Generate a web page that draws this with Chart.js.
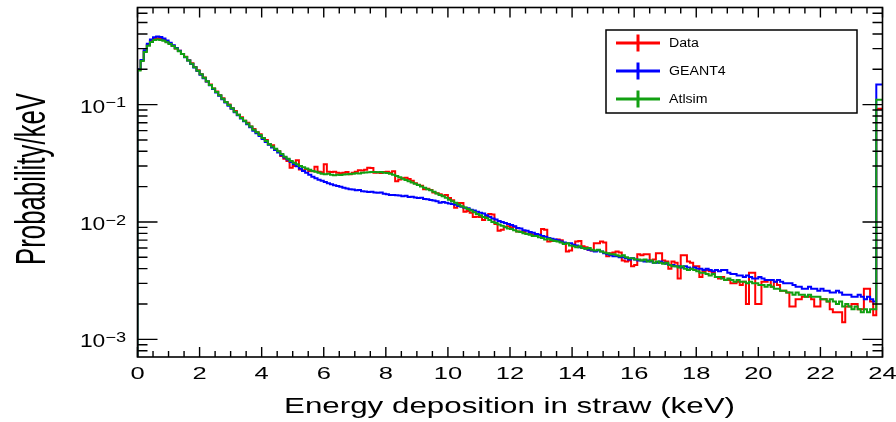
<!DOCTYPE html>
<html>
<head>
<meta charset="utf-8">
<script src="https://cdn.jsdelivr.net/npm/chart.js@4.4.1/dist/chart.umd.min.js"></script>
<style>
  html, body { margin: 0; padding: 0; background: #fff; }
  #wrap { width: 896px; height: 422px; }
</style>
</head>
<body>
<div id="wrap"><canvas id="c" width="896" height="422"></canvas></div>
<script>
// histogram bins: 0.1 keV wide, 0 .. 24 keV (first bin empty, last bin holds overflow)
const binWidth = 0.1;

const dataVals = [
  0.0001, 0.198, 0.238, 0.285, 0.322, 0.350, 0.364, 0.368, 0.365, 0.357,
  0.345, 0.331, 0.318, 0.301, 0.287, 0.270, 0.256, 0.239, 0.225, 0.209,
  0.196, 0.181, 0.170, 0.157, 0.148, 0.137, 0.129, 0.120, 0.113, 0.105,
  0.100, 0.093, 0.088, 0.082, 0.078, 0.073, 0.070, 0.065, 0.062, 0.058,
  0.056, 0.052, 0.050, 0.046, 0.045, 0.041, 0.040, 0.0365, 0.0345, 0.0330,
  0.0290, 0.0300, 0.0336, 0.0280, 0.0276, 0.0282, 0.0272, 0.0270, 0.0295, 0.0268,
  0.0265, 0.0310, 0.0268, 0.0266, 0.0268, 0.0262, 0.0260, 0.0263, 0.0266, 0.0255,
  0.0262, 0.0268, 0.0276, 0.0274, 0.0278, 0.0289, 0.0288, 0.0262, 0.0264, 0.0261,
  0.0266, 0.0268, 0.0262, 0.0270, 0.0222, 0.0230, 0.0236, 0.0238, 0.0232, 0.0224,
  0.0214, 0.0208, 0.0204, 0.0190, 0.0192, 0.0187, 0.0178, 0.0176, 0.0172, 0.0168,
  0.0170, 0.0160, 0.0153, 0.0132, 0.0145, 0.0145, 0.0122, 0.0124, 0.0120, 0.0110,
  0.0111, 0.0110, 0.0104, 0.0112, 0.0117, 0.0116, 0.0096, 0.0084, 0.0086, 0.0091,
  0.0092, 0.0090, 0.0091, 0.0083, 0.0083, 0.0082, 0.0079, 0.0080, 0.0078, 0.0076,
  0.0078, 0.0087, 0.0086, 0.0068, 0.0069, 0.0070, 0.0071, 0.0070, 0.0066, 0.0056,
  0.0057, 0.0064, 0.0068, 0.0069, 0.0062, 0.0061, 0.0058, 0.0057, 0.0066, 0.0066,
  0.0068, 0.0067, 0.0051, 0.0054, 0.0055, 0.0056, 0.0055, 0.0047, 0.0046, 0.0047,
  0.0042, 0.0043, 0.0053, 0.0052, 0.0053, 0.0053, 0.0047, 0.0048, 0.0054, 0.0054,
  0.0047, 0.0046, 0.0040, 0.0046, 0.0045, 0.0033, 0.0052, 0.0052, 0.0046, 0.0045,
  0.0042, 0.0042, 0.0034, 0.0038, 0.0039, 0.0038, 0.0037, 0.0034, 0.0033, 0.0034,
  0.0032, 0.0032, 0.0030, 0.0030, 0.0031, 0.0029, 0.0031, 0.0020, 0.0037, 0.0037,
  0.0020, 0.0020, 0.0031, 0.0031, 0.0032, 0.0028, 0.0031, 0.0029, 0.0026, 0.0026,
  0.0025, 0.0019, 0.0019, 0.0022, 0.0022, 0.0023, 0.0023, 0.0023, 0.0022, 0.0019,
  0.0019, 0.0022, 0.0022, 0.0021, 0.0018, 0.0017, 0.0017, 0.0017, 0.0014, 0.0019,
  0.0019, 0.0020, 0.0020, 0.0018, 0.0018, 0.0027, 0.0027, 0.0021, 0.0016, 0.092
];

const geant4Vals = [
  0.0001, 0.200, 0.240, 0.290, 0.330, 0.358, 0.375, 0.380, 0.376, 0.366,
  0.352, 0.337, 0.321, 0.304, 0.287, 0.270, 0.253, 0.237, 0.222, 0.207,
  0.193, 0.180, 0.168, 0.157, 0.146, 0.136, 0.127, 0.119, 0.111, 0.104,
  0.098, 0.092, 0.086, 0.081, 0.076, 0.072, 0.068, 0.064, 0.060, 0.057,
  0.054, 0.051, 0.048, 0.0455, 0.043, 0.041, 0.039, 0.037, 0.0355, 0.034,
  0.0325, 0.0310, 0.0298, 0.0285, 0.0272, 0.0262, 0.0252, 0.0243, 0.0236, 0.0229,
  0.0224, 0.0219, 0.0214, 0.0210, 0.0206, 0.0203, 0.0200, 0.0196, 0.0193, 0.0190,
  0.0189, 0.0186, 0.0187, 0.0183, 0.0182, 0.0180, 0.0181, 0.0178, 0.0177, 0.0178,
  0.0174, 0.0172, 0.0170, 0.0170, 0.0169, 0.0168, 0.0166, 0.0167, 0.0163, 0.0164,
  0.0162, 0.0160, 0.0161, 0.0157, 0.0156, 0.0154, 0.0152, 0.0150, 0.0146, 0.0148,
  0.0146, 0.0144, 0.0142, 0.0140, 0.0137, 0.0135, 0.0132, 0.0131, 0.0127, 0.0125,
  0.0122, 0.0120, 0.0118, 0.0114, 0.0110, 0.0107, 0.0105, 0.0102, 0.0100, 0.0098,
  0.0096, 0.0094, 0.0092, 0.0089, 0.0088, 0.0085, 0.0084, 0.0082, 0.0081, 0.0079,
  0.0078, 0.0076, 0.0075, 0.0073, 0.0072, 0.0071, 0.0070, 0.0068, 0.0067, 0.0066,
  0.0066, 0.0064, 0.0063, 0.0061, 0.0060, 0.0059, 0.0058, 0.0057, 0.0056, 0.0057,
  0.0056, 0.0054, 0.0053, 0.0052, 0.0051, 0.0051, 0.0050, 0.0050, 0.0049, 0.0048,
  0.0049, 0.0048, 0.0047, 0.0047, 0.0046, 0.0047, 0.0046, 0.0045, 0.0045, 0.0046,
  0.0045, 0.0044, 0.0043, 0.0043, 0.0042, 0.0042, 0.0041, 0.0042, 0.0041, 0.0040,
  0.0041, 0.0040, 0.0040, 0.0039, 0.0040, 0.0039, 0.0038, 0.0039, 0.0038, 0.0039,
  0.0039, 0.0037, 0.0036, 0.0036, 0.0035, 0.0035, 0.0034, 0.0035, 0.0034, 0.0033,
  0.0033, 0.0034, 0.0033, 0.0032, 0.0032, 0.0032, 0.0031, 0.0032, 0.0031, 0.0030,
  0.0030, 0.0030, 0.0029, 0.0028, 0.0028, 0.0027, 0.0027, 0.0028, 0.0027, 0.0027,
  0.0026, 0.0027, 0.0026, 0.0026, 0.0025, 0.0025, 0.0026, 0.0025, 0.0024, 0.0024,
  0.0024, 0.0023, 0.0023, 0.0024, 0.0023, 0.0022, 0.0023, 0.0022, 0.0021, 0.148
];

const atlsimVals = [
  0.0001, 0.195, 0.235, 0.280, 0.318, 0.342, 0.355, 0.358, 0.356, 0.350,
  0.340, 0.328, 0.315, 0.300, 0.285, 0.270, 0.254, 0.238, 0.223, 0.208,
  0.194, 0.181, 0.169, 0.158, 0.147, 0.137, 0.128, 0.120, 0.112, 0.105,
  0.099, 0.093, 0.087, 0.082, 0.077, 0.073, 0.069, 0.065, 0.061, 0.058,
  0.055, 0.052, 0.049, 0.046, 0.044, 0.042, 0.040, 0.038, 0.036, 0.0345,
  0.0330, 0.0320, 0.0310, 0.0300, 0.0292, 0.0285, 0.0278, 0.0272, 0.0268, 0.0262,
  0.0258, 0.0255, 0.0257, 0.0253, 0.0250, 0.0253, 0.0251, 0.0254, 0.0255, 0.0256,
  0.0258, 0.0260, 0.0259, 0.0262, 0.0264, 0.0265, 0.0266, 0.0267, 0.0265, 0.0266,
  0.0263, 0.0261, 0.0257, 0.0253, 0.0247, 0.0240, 0.0234, 0.0228, 0.0222, 0.0217,
  0.0212, 0.0207, 0.0201, 0.0196, 0.0190, 0.0186, 0.0181, 0.0175, 0.0170, 0.0166,
  0.0161, 0.0155, 0.0150, 0.0146, 0.0141, 0.0136, 0.0133, 0.0129, 0.0125, 0.0121,
  0.0117, 0.0114, 0.0110, 0.0108, 0.0104, 0.0100, 0.0098, 0.0095, 0.0093, 0.0090,
  0.0088, 0.0087, 0.0085, 0.0083, 0.0082, 0.0080, 0.0079, 0.0078, 0.0076, 0.0076,
  0.0074, 0.0073, 0.0071, 0.0072, 0.0070, 0.0069, 0.0068, 0.0067, 0.0065, 0.0066,
  0.0063, 0.0062, 0.0061, 0.0062, 0.0060, 0.0059, 0.0060, 0.0058, 0.0057, 0.0058,
  0.0056, 0.0055, 0.0054, 0.0053, 0.0053, 0.0052, 0.0051, 0.0052, 0.0050, 0.0049,
  0.0049, 0.0048, 0.0048, 0.0047, 0.0048, 0.0046, 0.0047, 0.0045, 0.0046, 0.0045,
  0.0044, 0.0045, 0.0043, 0.0042, 0.0042, 0.0041, 0.0042, 0.0040, 0.0039, 0.0040,
  0.0039, 0.0038, 0.0037, 0.0037, 0.0036, 0.0035, 0.0036, 0.0034, 0.0034, 0.0033,
  0.0032, 0.0033, 0.0032, 0.0031, 0.0032, 0.0031, 0.0031, 0.0030, 0.0031, 0.0030,
  0.0030, 0.0029, 0.0029, 0.0028, 0.0029, 0.0028, 0.0027, 0.0027, 0.0026, 0.0026,
  0.0025, 0.0025, 0.0024, 0.0025, 0.0024, 0.0024, 0.0023, 0.0024, 0.0023, 0.0023,
  0.0023, 0.0022, 0.0022, 0.0021, 0.0022, 0.0021, 0.0020, 0.0021, 0.0019, 0.0020,
  0.0019, 0.0018, 0.0019, 0.0018, 0.0017, 0.0018, 0.0017, 0.0018, 0.0018, 0.110
];

const seriesNames = ['Data', 'GEANT4', 'Atlsim'];
const seriesColors = ['#ff0000', '#0000ff', '#12a012'];

const xTickLabels = ['0', '2', '4', '6', '8', '10', '12', '14', '16', '18', '20', '22', '24'];
const yDecades = [1e-1, 1e-2, 1e-3];
const yExponents = ['\u22121', '\u22122', '\u22123'];

const xTitle = 'Energy deposition in straw (keV)';
const yTitle = 'Probability/keV';

const FONT = '"Liberation Sans", Arial, Helvetica, sans-serif';

// turn bin contents into step points at the bin edges
function toSteps(vals) {
  const pts = vals.map((v, i) => ({ x: i * binWidth, y: v }));
  pts.push({ x: vals.length * binWidth, y: vals[vals.length - 1] });
  return pts;
}

function stretchText(ctx, text, x, y, size, sx, align) {
  ctx.save();
  ctx.font = size + 'px ' + FONT;
  ctx.translate(x, y);
  ctx.scale(sx, 1);
  ctx.textAlign = align;
  ctx.textBaseline = 'alphabetic';
  ctx.fillText(text, 0, 0);
  ctx.restore();
}

// ROOT style frame, inward ticks, labels and legend
const rootFrame = {
  id: 'rootFrame',
  afterDraw(chart) {
    const ctx = chart.ctx;
    const a = chart.chartArea;
    const xs = chart.scales.x;
    const ys = chart.scales.y;
    ctx.save();
    ctx.strokeStyle = '#000';
    ctx.fillStyle = '#000';
    ctx.lineWidth = 1.6;
    ctx.strokeRect(a.left, a.top, a.right - a.left, a.bottom - a.top);

    ctx.lineWidth = 1.4;
    ctx.beginPath();
    // x ticks, major every 2 keV, minor every 0.5 keV
    for (let k = 0; k <= 48; k++) {
      const v = k * 0.5;
      const px = xs.getPixelForValue(v);
      const len = (k % 4 === 0) ? 10 : 6;
      ctx.moveTo(px, a.bottom); ctx.lineTo(px, a.bottom - len);
      ctx.moveTo(px, a.top); ctx.lineTo(px, a.top + len);
    }
    // y ticks on log scale
    for (let d = -4; d <= 0; d++) {
      for (let m = 1; m <= 9; m++) {
        const v = m * Math.pow(10, d);
        if (v < ys.min || v > ys.max) continue;
        const py = ys.getPixelForValue(v);
        const len = (m === 1) ? 20 : 10;
        ctx.moveTo(a.left, py); ctx.lineTo(a.left + len, py);
        ctx.moveTo(a.right, py); ctx.lineTo(a.right - len, py);
      }
    }
    ctx.stroke();

    // tick labels
    xTickLabels.forEach(t => {
      stretchText(ctx, t, xs.getPixelForValue(+t), 378.5, 17, 1.5, 'center');
    });
    yDecades.forEach((v, i) => {
      const py = ys.getPixelForValue(v);
      ctx.font = '14px ' + FONT;
      const supW = ctx.measureText(yExponents[i]).width * 1.3;
      stretchText(ctx, yExponents[i], 126, py + 2.7, 14, 1.3, 'right');
      stretchText(ctx, '10', 126 - supW, py + 8, 19, 1.2, 'right');
    });

    // axis titles
    ctx.font = '22px ' + FONT;
    const xw = ctx.measureText(xTitle).width;
    stretchText(ctx, xTitle, 509.5, 413, 22, 451 / xw, 'center');

    ctx.font = '43px ' + FONT;
    const yw = ctx.measureText(yTitle).width;
    ctx.save();
    ctx.translate(45, 179);
    ctx.rotate(-Math.PI / 2);
    ctx.scale(172 / yw, 1);
    ctx.font = '43px ' + FONT;
    ctx.textAlign = 'center';
    ctx.textBaseline = 'alphabetic';
    ctx.fillText(yTitle, 0, 0);
    ctx.restore();

    // legend
    ctx.fillStyle = '#fff';
    ctx.fillRect(606, 30, 251, 83);
    ctx.lineWidth = 1.5;
    ctx.strokeStyle = '#000';
    ctx.strokeRect(606, 30, 251, 83);
    seriesNames.forEach((name, i) => {
      const cy = 43 + i * 28;
      ctx.strokeStyle = seriesColors[i];
      ctx.lineWidth = 3;
      ctx.beginPath();
      ctx.moveTo(616, cy); ctx.lineTo(660, cy);
      ctx.moveTo(638, cy - 8.5); ctx.lineTo(638, cy + 8.5);
      ctx.stroke();
      ctx.fillStyle = '#000';
      stretchText(ctx, name, 669, cy + 4.3, 12, 1.18, 'left');
    });
    ctx.restore();
  }
};

const ctx = document.getElementById('c').getContext('2d');
const valueSets = [dataVals, geant4Vals, atlsimVals];

new Chart(ctx, {
  type: 'line',
  data: {
    datasets: seriesNames.map((name, i) => ({
      label: name,
      data: toSteps(valueSets[i]),
      borderColor: seriesColors[i],
      borderWidth: 2,
      stepped: 'after',
      pointRadius: 0,
      fill: false,
      order: 2 - i
    }))
  },
  options: {
    responsive: false,
    animation: false,
    layout: { padding: { left: 137.5, right: 13.5, top: 7.5, bottom: 65 } },
    plugins: { legend: { display: false }, tooltip: { enabled: false } },
    scales: {
      x: { type: 'linear', min: 0, max: 24, display: false },
      y: { type: 'logarithmic', min: 7.07e-4, max: 0.672, display: false }
    }
  },
  plugins: [rootFrame]
});
</script>
</body>
</html>
